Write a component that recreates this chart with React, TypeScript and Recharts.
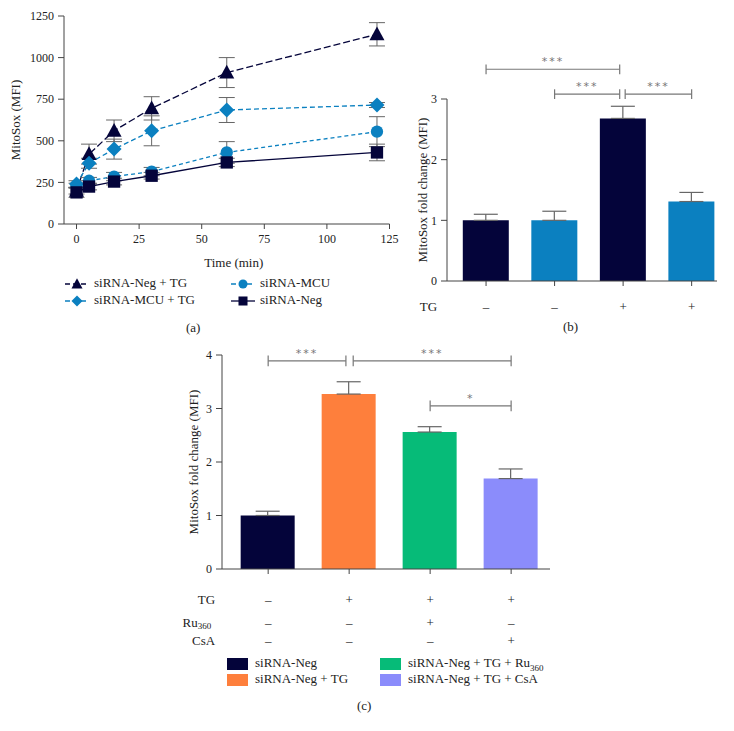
import React from 'react';
import { LineChart, Line, BarChart, Bar, XAxis, YAxis, ErrorBar, ReferenceLine, Cell } from 'recharts';

const FONT = '"Liberation Serif", "Times New Roman", serif';
const NAVY = '#04043a';
const BLUE = '#0b80c0';
const AXIS = '#444';
const ERR = '#666';
const SIG = '#777';

// panel (a): MitoSox over time
const times = [0, 5, 15, 30, 60, 120];
const negTG = [200, 420, 560, 695, 910, 1140];
const negTGErr = [20, 60, 65, 70, 90, 70];
const mcuTG = [240, 365, 450, 560, 685, 715];
const mcuTGErr = [20, 30, 60, 90, 75, 15];
const mcu = [230, 260, 285, 315, 430, 555];
const mcuErr = [15, 20, 25, 25, 65, 90];
const neg = [190, 225, 255, 290, 370, 430];
const negErr = [30, 20, 20, 20, 25, 50];

const seriesA = [
  { key: 'negTG', name: 'siRNA-Neg + TG', values: negTG, errors: negTGErr, color: NAVY, dash: '7 3', shape: 'triangle' },
  { key: 'mcuTG', name: 'siRNA-MCU + TG', values: mcuTG, errors: mcuTGErr, color: BLUE, dash: '5 3', shape: 'diamond' },
  { key: 'mcu', name: 'siRNA-MCU', values: mcu, errors: mcuErr, color: BLUE, dash: '4 3', shape: 'circle' },
  { key: 'neg', name: 'siRNA-Neg', values: neg, errors: negErr, color: NAVY, dash: undefined, shape: 'square' },
];

// panel (b)
const bValues = [1.0, 1.0, 2.68, 1.31];
const bErr = [0.1, 0.15, 0.2, 0.15];
const bColors = [NAVY, BLUE, NAVY, BLUE];
const bTG = ['–', '–', '+', '+'];

// panel (c)
const cValues = [1.0, 3.27, 2.56, 1.69];
const cErr = [0.08, 0.23, 0.1, 0.18];
const cColors = [NAVY, '#fe7f3c', '#06bb78', '#8b8cfb'];
const cNames = ['siRNA-Neg', 'siRNA-Neg + TG', 'siRNA-Neg + TG + Ru360', 'siRNA-Neg + TG + CsA'];
const cTG = ['–', '+', '+', '+'];
const cRu = ['–', '–', '+', '–'];
const cCsA = ['–', '–', '–', '+'];

const timeTable = times.map((t, i) => {
  const row: any = { t };
  seriesA.forEach((s) => {
    row[s.key] = s.values[i];
    row[s.key + 'Err'] = s.errors[i];
  });
  return row;
});

const bTable = bValues.map((v, i) => ({ x: i, v, err: [0, bErr[i]] }));
const cTable = cValues.map((v, i) => ({ x: i, v, err: [0, cErr[i]] }));

function Marker({ shape, cx, cy, size, color }: any) {
  const r = size / 2;
  if (shape === 'triangle')
    return <polygon points={`${cx},${cy - r * 1.05} ${cx - r},${cy + r * 0.8} ${cx + r},${cy + r * 0.8}`} fill={color} />;
  if (shape === 'diamond')
    return <polygon points={`${cx},${cy - r} ${cx + r},${cy} ${cx},${cy + r} ${cx - r},${cy}`} fill={color} />;
  if (shape === 'circle') return <circle cx={cx} cy={cy} r={r * 0.82} fill={color} />;
  return <rect x={cx - r * 0.82} y={cy - r * 0.82} width={r * 1.64} height={r * 1.64} fill={color} />;
}

const tickStyle = { fontFamily: FONT, fontSize: 12, fill: '#222' };
const textStyle: React.CSSProperties = { fontFamily: FONT, fontSize: 13, color: '#222', position: 'absolute', whiteSpace: 'nowrap' };

const yLabel = (text: string, dx: number) => (props: any) => {
  const vb = props.viewBox;
  const x = vb.x + dx;
  const y = vb.y + vb.height / 2;
  return (
    <text x={x} y={y} transform={`rotate(-90 ${x} ${y})`} textAnchor="middle" dominantBaseline="central"
      fontFamily={FONT} fontSize={13} fill="#222">
      {text}
    </text>
  );
};

function bracket(id: string, x1: number, x2: number, y: number, h: number, label: string) {
  const line = { stroke: SIG, strokeWidth: 1.2, ifOverflow: 'visible' as const };
  return [
    <ReferenceLine key={id + 'h'} segment={[{ x: x1, y }, { x: x2, y }]} {...line}
      label={{ value: label, position: 'top', offset: 4, fill: SIG, fontSize: 11, fontFamily: 'DejaVu Sans', letterSpacing: 2 }} />,
    <ReferenceLine key={id + 'l'} segment={[{ x: x1, y: y - h }, { x: x1, y: y + h }]} {...line} />,
    <ReferenceLine key={id + 'r'} segment={[{ x: x2, y: y - h }, { x: x2, y: y + h }]} {...line} />,
  ];
}

function withSub(name: string) {
  const i = name.indexOf('Ru360');
  if (i < 0) return name;
  return (
    <>
      {name.slice(0, i)}Ru<sub style={{ fontSize: 9 }}>360</sub>
    </>
  );
}

const BTick = (props: any) => {
  const { x, y, payload } = props;
  const i = payload.value;
  return (
    <g fontFamily={FONT} fontSize={13} fill="#222">
      <text x={x} y={y + 20} textAnchor="middle" dominantBaseline="central">{bTG[i]}</text>
      {i === 0 && <text x={x - 49} y={y + 20} textAnchor="end" dominantBaseline="central">TG</text>}
    </g>
  );
};

const cRows = [
  { label: 'TG', marks: cTG, dy: 25 },
  { label: 'Ru', marks: cRu, dy: 48 },
  { label: 'CsA', marks: cCsA, dy: 66 },
];

const CTick = (props: any) => {
  const { x, y, payload } = props;
  const i = payload.value;
  return (
    <g fontFamily={FONT} fontSize={13} fill="#222">
      {cRows.map((r) => (
        <text key={r.label} x={x} y={y + r.dy} textAnchor="middle" dominantBaseline="central">{r.marks[i]}</text>
      ))}
      {i === 0 &&
        cRows.map((r) => (
          <text key={'l' + r.label} x={x - (r.label === 'Ru' ? 57 : 53)} y={y + r.dy} textAnchor="end" dominantBaseline="central">
            {r.label}
            {r.label === 'Ru' && <tspan fontSize={9} dy={4}>360</tspan>}
          </text>
        ))}
    </g>
  );
};

function LegendIconA({ s }: any) {
  return (
    <svg width={24} height={14} style={{ position: 'absolute', left: 0, top: 0 }}>
      <line x1={0} y1={7} x2={24} y2={7} stroke={s.color} strokeWidth={1.3} strokeDasharray={s.dash ? '5 3' : undefined} />
      <Marker shape={s.shape} cx={12} cy={7} size={11} color={s.color} />
    </svg>
  );
}

export default function App() {
  const legendA = [
    { s: seriesA[0], left: 65, top: 277 },
    { s: seriesA[2], left: 231, top: 277 },
    { s: seriesA[1], left: 65, top: 294 },
    { s: seriesA[3], left: 231, top: 294 },
  ];
  const legendC = [
    { i: 0, left: 227, top: 657 },
    { i: 1, left: 227, top: 673 },
    { i: 2, left: 380, top: 657 },
    { i: 3, left: 380, top: 673 },
  ];

  return (
    <div style={{ position: 'absolute', left: 0, top: 0, width: 734, height: 731, background: '#fff' }}>
      {/* (a) */}
      <div style={{ position: 'absolute', left: 0, top: 0 }}>
        <LineChart width={400} height={270} data={timeTable} margin={{ top: 16, right: 10.5, bottom: 0, left: 0 }}>
          <XAxis type="number" dataKey="t" domain={[-5, 125]} ticks={[0, 25, 50, 75, 100, 125]} height={46}
            stroke={AXIS} tickSize={5} tickMargin={5} tick={tickStyle}
            label={{ value: 'Time (min)', position: 'insideBottom', offset: 3, dx: 7, fontFamily: FONT, fontSize: 13, fill: '#222' }} />
          <YAxis type="number" domain={[0, 1250]} ticks={[0, 250, 500, 750, 1000, 1250]} width={64}
            stroke={AXIS} tickSize={6} tickMargin={4} tick={tickStyle} label={{ content: yLabel('MitoSox (MFI)', 15) }} />
          {seriesA.map((s) => (
            <Line key={s.key} dataKey={s.key} stroke={s.color} strokeWidth={1.3} strokeDasharray={s.dash}
              isAnimationActive={false}
              dot={(p: any) => <Marker key={s.key + p.index} shape={s.shape} cx={p.cx} cy={p.cy} size={15} color={s.color} />}>
              <ErrorBar dataKey={s.key + 'Err'} width={8} stroke={ERR} strokeWidth={1} direction="y" />
            </Line>
          ))}
        </LineChart>
      </div>
      {legendA.map(({ s, left, top }) => (
        <div key={s.key} style={{ ...textStyle, left, top, height: 14 }}>
          <LegendIconA s={s} />
          <span style={{ position: 'absolute', left: 29, top: -2 }}>{s.name}</span>
        </div>
      ))}
      <div style={{ ...textStyle, left: 186, top: 320 }}>(a)</div>

      {/* (b) */}
      <div style={{ position: 'absolute', left: 370, top: 40 }}>
        <BarChart width={364} height={300} data={bTable} margin={{ top: 59, right: 17, bottom: 0, left: 0 }}>
          <XAxis type="number" dataKey="x" domain={[-0.57, 3.37]} ticks={[0, 1, 2, 3]} height={59}
            stroke={AXIS} tickSize={5} tickMargin={0} tick={<BTick />} />
          <YAxis type="number" domain={[0, 3]} ticks={[0, 1, 2, 3]} width={77} stroke={AXIS}
            tickSize={6} tickMargin={4} tick={tickStyle} label={{ content: yLabel('MitoSox fold change (MFI)', 52) }} />
          <Bar dataKey="v" barSize={46} isAnimationActive={false}>
            {bTable.map((d) => (
              <Cell key={d.x} fill={bColors[d.x]} />
            ))}
            <ErrorBar dataKey="err" width={12} stroke={ERR} strokeWidth={1.2} direction="y" />
          </Bar>
          {bracket('b1', 0, 1.95, 3.49, 0.08, '***')}
          {bracket('b2', 1, 1.95, 3.08, 0.08, '***')}
          {bracket('b3', 2.03, 3, 3.08, 0.08, '***')}
        </BarChart>
      </div>
      <div style={{ ...textStyle, left: 563, top: 319 }}>(b)</div>

      {/* (c) */}
      <div style={{ position: 'absolute', left: 150, top: 330 }}>
        <BarChart width={420} height={330} data={cTable} margin={{ top: 25, right: 20, bottom: 0, left: 0 }}>
          <XAxis type="number" dataKey="x" domain={[-0.57, 3.48]} ticks={[0, 1, 2, 3]} height={91}
            stroke={AXIS} tickSize={5} tickMargin={0} tick={<CTick />} />
          <YAxis type="number" domain={[0, 4]} ticks={[0, 1, 2, 3, 4]} width={72} stroke={AXIS}
            tickSize={6} tickMargin={4} tick={tickStyle} label={{ content: yLabel('MitoSox fold change (MFI)', 43) }} />
          <Bar dataKey="v" barSize={54} isAnimationActive={false}>
            {cTable.map((d) => (
              <Cell key={d.x} fill={cColors[d.x]} />
            ))}
            <ErrorBar dataKey="err" width={12} stroke={ERR} strokeWidth={1.2} direction="y" />
          </Bar>
          {bracket('c1', 0, 0.96, 3.89, 0.1, '***')}
          {bracket('c2', 1.05, 3, 3.89, 0.1, '***')}
          {bracket('c3', 2, 3, 3.05, 0.1, '*')}
        </BarChart>
      </div>
      {legendC.map(({ i, left, top }) => (
        <div key={i} style={{ ...textStyle, left, top, height: 14 }}>
          <div style={{ position: 'absolute', left: 0, top: 1, width: 21, height: 12, background: cColors[i] }} />
          <span style={{ position: 'absolute', left: 28, top: -2 }}>{withSub(cNames[i])}</span>
        </div>
      ))}
      <div style={{ ...textStyle, left: 357, top: 698 }}>(c)</div>
    </div>
  );
}
